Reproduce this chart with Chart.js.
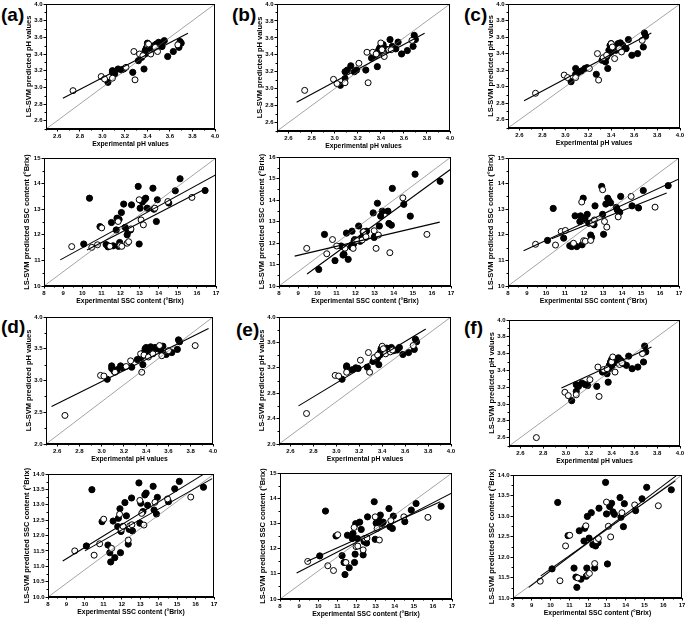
<!DOCTYPE html>
<html><head><meta charset="utf-8">
<script src="https://cdn.jsdelivr.net/npm/chart.js@4/dist/chart.umd.min.js"></script>
<style>
html,body{margin:0;padding:0;background:#fff;width:685px;height:619px;overflow:hidden;position:relative;font-family:"Liberation Sans",Arial,sans-serif}
canvas{position:absolute}
.lbl{position:absolute;font-weight:bold;font-size:19px;line-height:1;color:#000}
</style></head><body>
<div class="lbl" style="left:1px;top:5px">(a)</div>
<div class="lbl" style="left:232px;top:5px">(b)</div>
<div class="lbl" style="left:464px;top:5px">(c)</div>
<div class="lbl" style="left:1px;top:317px">(d)</div>
<div class="lbl" style="left:236px;top:320px">(e)</div>
<div class="lbl" style="left:464px;top:318px">(f)</div>
<script>
// ---------- shared experimental values ----------
const pHCalX  = [3.05,3.09,3.09,3.11,3.14,3.17,3.19,3.27,3.32,3.35,3.36,3.37,3.38,3.38,3.39,3.40,3.40,3.41,3.42,3.44,3.46,3.48,3.50,3.53,3.55,3.58,3.63,3.68,3.69,3.70];
const pHPredX = [2.74,2.99,3.02,3.09,3.21,3.28,3.29,3.33,3.36,3.40,3.41,3.43,3.47,3.49,3.67];
const pHPredX_d = [2.67,2.99,3.02,3.12,3.22,3.26,3.36,3.35,3.38,3.42,3.46,3.52,3.54,3.60,3.84];
const sscCalX  = [10.08,10.38,10.93,11.25,11.35,11.40,11.53,11.62,11.78,11.82,11.90,11.93,11.96,12.05,12.17,12.25,12.35,12.40,12.53,12.58,12.93,12.98,13.03,13.15,13.25,13.32,13.40,13.70,13.75,13.88,13.93,14.53,14.87,15.12,16.43];
const sscPredX = [9.45,10.50,10.80,11.02,11.45,11.88,11.98,12.07,12.35,12.43,12.55,12.98,13.08,13.20,13.80,14.48,15.74];

// ---------- predicted pH ----------
const pHa_cal  = [3.06,3.20,3.18,3.16,3.22,3.21,3.22,3.18,3.32,3.36,3.39,3.22,3.44,3.40,3.47,3.42,3.53,3.45,3.50,3.48,3.50,3.52,3.54,3.49,3.56,3.37,3.43,3.48,3.55,3.53];
const pHa_pred = [2.96,3.13,3.10,3.11,3.24,3.43,3.09,3.40,3.38,3.51,3.52,3.40,3.48,3.43,3.51];
const pHb_cal  = [3.04,3.12,3.20,3.22,3.27,3.20,3.22,3.22,3.36,3.39,3.40,3.26,3.45,3.42,3.48,3.44,3.50,3.46,3.52,3.47,3.46,3.58,3.50,3.47,3.55,3.41,3.45,3.50,3.63,3.58];
const pHb_pred = [2.98,3.11,3.06,3.07,3.30,3.43,3.07,3.43,3.41,3.54,3.46,3.38,3.46,3.46,3.57];
const pHc_cal  = [3.06,3.22,3.15,3.17,3.19,3.22,3.23,3.15,3.32,3.30,3.36,3.22,3.44,3.40,3.50,3.42,3.52,3.46,3.48,3.44,3.52,3.53,3.50,3.46,3.57,3.38,3.40,3.48,3.65,3.61];
const pHc_pred = [2.92,3.14,3.11,3.11,3.22,3.40,3.08,3.35,3.38,3.52,3.48,3.34,3.46,3.42,3.56];
const pHd_cal  = [3.02,3.23,3.19,3.15,3.17,3.23,3.20,3.21,3.33,3.36,3.38,3.25,3.40,3.44,3.50,3.45,3.52,3.47,3.50,3.53,3.48,3.52,3.50,3.48,3.54,3.41,3.44,3.49,3.64,3.61];
const pHd_pred = [2.45,3.08,3.07,3.13,3.22,3.31,3.13,3.42,3.40,3.37,3.42,3.55,3.39,3.47,3.55];
const pHe_cal  = [3.02,3.23,3.21,3.16,3.17,3.20,3.19,3.21,3.30,3.33,3.36,3.25,3.40,3.44,3.50,3.46,3.52,3.48,3.50,3.51,3.47,3.52,3.47,3.48,3.52,3.41,3.44,3.49,3.65,3.61];
const pHe_pred = [2.48,3.08,3.07,3.13,3.32,3.44,3.13,3.36,3.40,3.54,3.50,3.42,3.45,3.48,3.55];
const pHf_cal  = [3.04,3.23,3.15,3.21,3.25,3.23,3.22,3.21,3.38,3.40,3.36,3.26,3.42,3.46,3.50,3.45,3.53,3.48,3.49,3.50,3.55,3.52,3.48,3.46,3.57,3.42,3.44,3.50,3.69,3.62];
const pHf_pred = [2.60,3.14,3.10,3.11,3.29,3.44,3.09,3.41,3.42,3.50,3.56,3.38,3.47,3.49,3.60];

// ---------- predicted SSC ----------
const sscA_cal  = [11.64,13.43,12.32,11.62,11.53,11.56,12.48,11.57,12.19,12.65,11.55,12.60,11.70,12.87,13.20,12.29,12.00,12.13,12.19,13.17,13.89,11.64,13.04,13.28,13.37,13.43,13.04,13.82,13.00,12.52,13.37,13.24,13.72,14.19,13.73];
const sscA_pred = [11.54,11.51,11.61,12.27,11.55,12.52,11.58,11.55,11.67,11.73,12.23,13.37,12.58,12.39,13.04,13.30,13.46];
const sscB_cal  = [10.77,12.40,11.18,11.86,11.44,11.48,12.46,11.24,11.82,12.55,11.95,12.10,12.16,12.10,12.79,12.08,12.26,12.52,12.26,12.55,13.40,12.26,12.37,13.85,12.79,13.25,13.48,13.48,12.91,12.83,14.54,13.80,13.25,15.20,14.87];
const sscB_pred = [11.75,11.50,12.16,11.86,11.76,11.75,12.10,12.12,12.14,12.52,12.29,12.57,11.75,12.37,11.55,14.10,12.40];
const sscC_cal  = [11.78,13.03,11.87,11.57,11.54,11.62,12.74,11.54,12.52,12.74,11.61,12.62,13.43,12.65,12.80,12.45,11.99,11.90,12.39,13.13,13.89,12.80,12.02,13.20,13.43,13.33,13.25,13.07,12.97,12.88,13.50,13.13,13.05,13.73,13.92];
const sscC_pred = [11.63,11.60,12.13,12.17,11.67,13.28,11.77,11.75,11.78,12.45,12.58,13.76,12.52,12.30,12.70,13.50,13.08];
const sscD_cal  = [11.66,13.49,12.45,11.69,11.44,11.14,12.47,11.28,12.29,12.56,12.87,11.44,12.13,12.29,13.07,12.64,11.72,12.20,13.22,12.15,13.71,12.40,13.05,12.78,13.32,13.38,12.98,13.60,12.83,12.70,13.24,13.10,13.52,13.76,13.57];
const sscD_pred = [11.50,11.36,11.73,12.53,11.58,12.69,12.20,12.30,11.85,12.31,12.35,13.14,12.72,12.34,13.08,13.19,13.25];
const sscE_cal  = [11.71,13.49,12.50,11.72,11.45,10.97,12.53,11.24,12.40,12.60,11.45,11.78,12.99,12.40,13.05,12.76,11.75,12.28,12.22,13.26,13.86,12.37,13.01,13.20,13.33,13.00,13.05,13.59,12.87,12.80,13.29,13.07,13.53,13.79,13.68];
const sscE_pred = [11.49,11.32,11.13,12.55,11.45,12.84,12.08,12.10,11.95,12.40,12.42,13.26,12.80,12.34,13.11,13.26,13.24];
const sscF_cal  = [11.71,13.33,12.52,11.73,11.51,11.26,12.64,11.46,12.39,12.70,11.53,11.73,12.99,12.46,13.08,12.30,11.73,12.27,12.35,13.19,13.82,13.05,11.83,13.23,13.31,13.10,13.04,13.45,12.97,12.74,13.30,13.13,13.42,13.70,13.64];
const sscF_pred = [11.41,11.42,12.27,12.53,11.49,12.76,11.57,11.60,11.84,12.40,12.45,13.34,12.75,12.49,13.08,13.27,13.25];

// ---------- fitted regression lines (end points) ----------
const fit_pHa_x = [2.65,3.76], fit_pHa_y = [2.87,3.65];
const fit_pHb_x = [2.67,3.78], fit_pHb_y = [2.84,3.655];
const fit_pHc_x = [2.64,3.75], fit_pHc_y = [2.83,3.65];
const fit_pHd_x = [2.55,3.96], fit_pHd_y = [2.59,3.82];
const fit_pHe_x = [2.67,3.78], fit_pHe_y = [2.60,3.81];
const fit_pHf_x = [2.96,3.75], fit_pHf_y = [3.19,3.68];
const fit_sscA1_x = [8.85,17.0],  fit_sscA1_y = [11.02,14.35];
const fit_sscA2_x = [10.25,16.43], fit_sscA2_y = [11.41,13.79];
const fit_sscB1_x = [8.82,16.41], fit_sscB1_y = [11.39,12.97];
const fit_sscB2_x = [9.47,17.0],  fit_sscB2_y = [10.56,15.44];
const fit_sscC1_x = [8.82,17.0],  fit_sscC1_y = [11.38,14.18];
const fit_sscC2_x = [10.3,16.35], fit_sscC2_y = [11.85,13.63];
const fit_sscD1_x = [8.8,16.4],   fit_sscD1_y = [11.17,13.98];
const fit_sscD2_x = [10.0,16.9],  fit_sscD2_y = [11.5,13.85];
const fit_sscE1_x = [8.87,17.0],  fit_sscE1_y = [11.03,14.21];
const fit_sscE2_x = [9.4,16.39],  fit_sscE2_y = [11.49,13.86];
const fit_sscF1_x = [8.84,16.68], fit_sscF1_y = [11.26,13.98];
const fit_sscF2_x = [9.48,16.65], fit_sscF2_y = [11.54,13.86];

// ---------- tick labels ----------
const pHTicks   = [2.6,2.8,3.0,3.2,3.4,3.6,3.8,4.0];
const pHTicksD  = [2.0,2.5,3.0,3.5,4.0];
const pHTicksE  = [2.0,2.4,2.8,3.2,3.6,4.0];
const sscXTicks = [8,9,10,11,12,13,14,15,16,17];
const sscY15    = [10,11,12,13,14,15];
const sscY16    = [10,11,12,13,14,15,16];
const sscYD     = [10.0,10.5,11.0,11.5,12.0,12.5,13.0,13.5,14.0];
const sscYF     = [11.0,11.5,12.0,12.5,13.0,13.5,14.0];

const pHXTitle = 'Experimental pH values', pHYTitle = 'LS-SVM predicted pH values';
const sscXTitle = 'Experimental SSC content (\u00B0Brix)', sscYTitle = 'LS-SVM predicted SSC content (\u00B0Brix)';

function pts(xs, ys){ return xs.map((x,i)=>({x:x, y:ys[i]})); }

const panels = [
 {box:[46,4,215,129],   xr:[2.5,4.0], yr:[2.5,4.0], xt:pHTicks, yt:pHTicks, xd:1, yd:1, xT:pHXTitle, yT:pHYTitle, calX:pHCalX, cal:pHa_cal, predX:pHPredX, pred:pHa_pred, fits:[[fit_pHa_x,fit_pHa_y]]},
 {box:[277,4,450,131],  xr:[2.5,4.0], yr:[2.5,4.0], xt:pHTicks, yt:pHTicks, xd:1, yd:1, xT:pHXTitle, yT:pHYTitle, calX:pHCalX, cal:pHb_cal, predX:pHPredX, pred:pHb_pred, fits:[[fit_pHb_x,fit_pHb_y]]},
 {box:[508,4,680,128],  xr:[2.5,4.0], yr:[2.5,4.0], xt:pHTicks, yt:pHTicks, xd:1, yd:1, xT:pHXTitle, yT:pHYTitle, calX:pHCalX, cal:pHc_cal, predX:pHPredX, pred:pHc_pred, fits:[[fit_pHc_x,fit_pHc_y]]},
 {box:[44,158,216,286], xr:[8,17], yr:[10,15], xt:sscXTicks, yt:sscY15, xd:0, yd:0, xT:sscXTitle, yT:sscYTitle, calX:sscCalX, cal:sscA_cal, predX:sscPredX, pred:sscA_pred, fits:[[fit_sscA1_x,fit_sscA1_y],[fit_sscA2_x,fit_sscA2_y]]},
 {box:[279,157,451,286],xr:[8,17], yr:[10,16], xt:sscXTicks, yt:sscY16, xd:0, yd:0, xT:sscXTitle, yT:sscYTitle, calX:sscCalX, cal:sscB_cal, predX:sscPredX, pred:sscB_pred, fits:[[fit_sscB1_x,fit_sscB1_y],[fit_sscB2_x,fit_sscB2_y]]},
 {box:[508,158,679,286],xr:[8,17], yr:[10,15], xt:sscXTicks, yt:sscY15, xd:0, yd:0, xT:sscXTitle, yT:sscYTitle, calX:sscCalX, cal:sscC_cal, predX:sscPredX, pred:sscC_pred, fits:[[fit_sscC1_x,fit_sscC1_y],[fit_sscC2_x,fit_sscC2_y]]},
 {box:[46,317,213,444], xr:[2.5,4.0], yr:[2.0,4.0], xt:pHTicks, yt:pHTicksD, xd:1, yd:1, xT:pHXTitle, yT:pHYTitle, calX:pHCalX, cal:pHd_cal, predX:pHPredX_d, pred:pHd_pred, fits:[[fit_pHd_x,fit_pHd_y]]},
 {box:[279,317,451,444],xr:[2.5,4.0], yr:[2.0,4.0], xt:pHTicks, yt:pHTicksE, xd:1, yd:1, xT:pHXTitle, yT:pHYTitle, calX:pHCalX, cal:pHe_cal, predX:pHPredX, pred:pHe_pred, fits:[[fit_pHe_x,fit_pHe_y]]},
 {box:[509,320,680,446],xr:[2.5,4.0], yr:[2.5,4.0], xt:pHTicks, yt:pHTicks, xd:1, yd:1, xT:pHXTitle, yT:pHYTitle, calX:pHCalX, cal:pHf_cal, predX:pHPredX, pred:pHf_pred, fits:[[fit_pHf_x,fit_pHf_y]]},
 {box:[48,474,214,597], xr:[8,17], yr:[10,14], xt:sscXTicks, yt:sscYD, xd:0, yd:1, xT:sscXTitle, yT:sscYTitle, calX:sscCalX, cal:sscD_cal, predX:sscPredX, pred:sscD_pred, fits:[[fit_sscD1_x,fit_sscD1_y],[fit_sscD2_x,fit_sscD2_y]], wide:true},
 {box:[280,473,452,599],xr:[8,17], yr:[10,15], xt:sscXTicks, yt:sscY15, xd:0, yd:0, xT:sscXTitle, yT:sscYTitle, calX:sscCalX, cal:sscE_cal, predX:sscPredX, pred:sscE_pred, fits:[[fit_sscE1_x,fit_sscE1_y],[fit_sscE2_x,fit_sscE2_y]]},
 {box:[513,475,682,598],xr:[8,17], yr:[11,14], xt:sscXTicks, yt:sscYF, xd:0, yd:1, xT:sscXTitle, yT:sscYTitle, calX:sscCalX, cal:sscF_cal, predX:sscPredX, pred:sscF_pred, fits:[[fit_sscF1_x,fit_sscF1_y],[fit_sscF2_x,fit_sscF2_y]], wide:true}
];

const FAM = '"Liberation Sans", Arial, sans-serif';
// frame around plot area + minor ticks halfway between labelled ticks
const framePlugin = {
  id:'frame',
  afterDraw(c){
    const a=c.chartArea, g=c.ctx;
    g.save(); g.strokeStyle='#000'; g.lineWidth=1;
    g.strokeRect(Math.round(a.left)+0.5, Math.round(a.top)+0.5, Math.round(a.right-a.left)-1, Math.round(a.bottom-a.top)-1);
    const xsc=c.scales.x, ysc=c.scales.y;
    const minor=(sc)=>{
      const t=sc.ticks.map(k=>k.value); const out=[];
      if(t.length<2) return out;
      const step=t[1]-t[0];
      for(let v=t[0]-step/2; v<=sc.max+1e-9; v+=step){ if(v>=sc.min-1e-9) out.push(v); }
      return out;
    };
    g.beginPath();
    minor(xsc).forEach(v=>{ const px=Math.round(xsc.getPixelForValue(v))+0.5; g.moveTo(px, Math.round(a.bottom)); g.lineTo(px, Math.round(a.bottom)+1.5); });
    minor(ysc).forEach(v=>{ const py=Math.round(ysc.getPixelForValue(v))+0.5; g.moveTo(Math.round(a.left), py); g.lineTo(Math.round(a.left)-1.5, py); });
    g.stroke();
    g.restore();
  }
};

const padB=19, padT=6, padR=9;
panels.forEach(p=>{
  const padL = p.wide ? 25 : 21;
  const [L,T,R,B]=p.box;
  const cv=document.createElement('canvas');
  cv.width=(R-L)+padL+padR; cv.height=(B-T)+padT+padB;
  cv.style.left=(L-padL)+'px'; cv.style.top=(T-padT)+'px';
  document.body.appendChild(cv);
  const ds=[];
  p.fits.forEach(f=>ds.push({data:pts(f[0],f[1]), showLine:true, borderColor:'#000', borderWidth:1.1, pointRadius:0}));
  ds.push({data:pts(p.xr,p.yr), showLine:true, borderColor:'#666', borderWidth:0.6, pointRadius:0});
  ds.push({data:pts(p.predX,p.pred), pointRadius:3.0, backgroundColor:'#fff', borderColor:'#000', borderWidth:1});
  ds.push({data:pts(p.calX,p.cal), pointRadius:3.1, backgroundColor:'#000', borderColor:'#000', borderWidth:1});
  const axisCommon = (ticks, dec, title, horiz) => ({
    type:'linear',
    afterBuildTicks: s=>{ s.ticks = ticks.map(v=>({value:v})); },
    afterFit: s=>{ if(horiz){ s.height=padB; } else { s.width=padL; } s.paddingLeft=0; s.paddingRight=0; s.paddingTop=0; s.paddingBottom=0; },
    ticks:{ callback:(v)=>Number(v).toFixed(dec), font:{family:FAM, size:6, weight:'bold'}, color:'#000', padding:1, maxRotation:0, minRotation:0, autoSkip:false },
    grid:{ display:true, drawOnChartArea:false, drawTicks:true, tickLength:2.5, color:'#000', lineWidth:1 },
    border:{ display:true, color:'#000', width:1 },
    title:{ display:true, text:title, color:'#000', padding:0, font:{family:FAM, size: horiz?6.8:7.5, weight:'bold', lineHeight:1} }
  });
  const xs = axisCommon(p.xt, p.xd, p.xT, true); xs.min=p.xr[0]; xs.max=p.xr[1];
  const ys = axisCommon(p.yt, p.yd, p.yT, false); ys.min=p.yr[0]; ys.max=p.yr[1];
  new Chart(cv.getContext('2d'), {
    type:'scatter',
    data:{datasets:ds},
    options:{
      responsive:false, animation:false, devicePixelRatio:1, events:[],
      layout:{padding:{left:0, top:padT, right:padR, bottom:0}},
      plugins:{legend:{display:false}, tooltip:{enabled:false}},
      scales:{x:xs, y:ys}
    },
    plugins:[framePlugin]
  });
});
</script>
</body></html>
